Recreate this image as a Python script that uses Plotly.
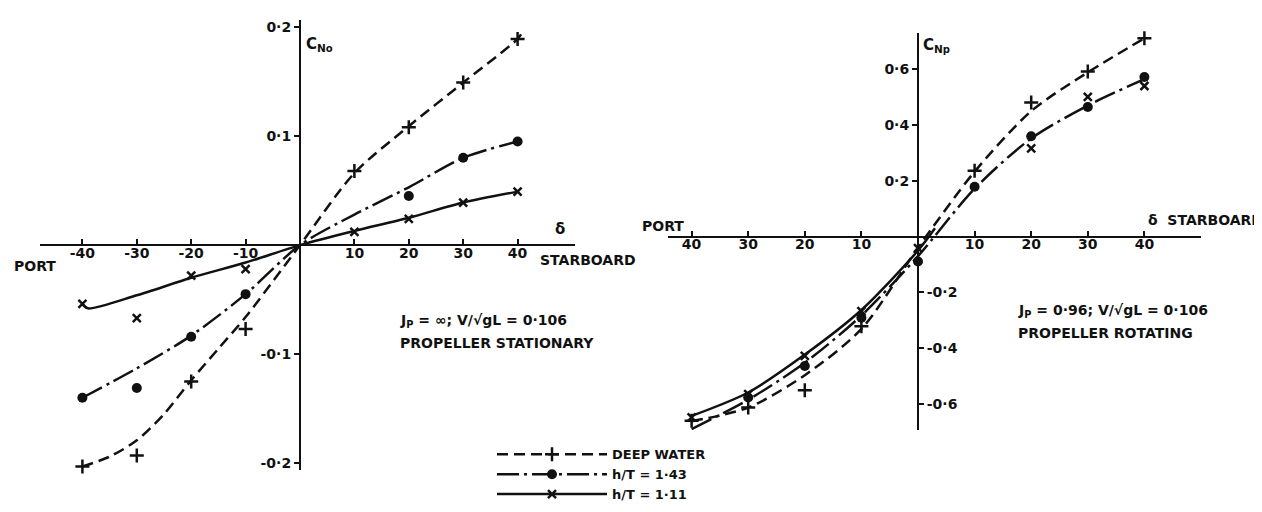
import plotly.graph_objects as go

W, H = 1262, 512
INK = "#111111"

# ---------------- data: left panel (propeller stationary) ----------------
L_delta_curve_deep = [-40, -35, -30, -25, -20, -15, -10, 0, 10, 20, 30, 40, 41]
L_cn_curve_deep = [-0.203, -0.194, -0.179, -0.155, -0.124, -0.095, -0.066, 0.0, 0.066, 0.109, 0.149, 0.189, 0.196]
L_delta_pts_deep = [-40, -30, -20, -10, 10, 20, 30, 40]
L_cn_pts_deep = [-0.203, -0.193, -0.125, -0.077, 0.068, 0.108, 0.149, 0.189]

L_delta_curve_143 = [-40, -30, -20, -10, 0, 10, 20, 30, 40]
L_cn_curve_143 = [-0.140, -0.113, -0.083, -0.045, 0.0, 0.028, 0.053, 0.080, 0.095]
L_delta_pts_143 = [-40, -30, -20, -10, 20, 30, 40]
L_cn_pts_143 = [-0.140, -0.131, -0.084, -0.045, 0.045, 0.080, 0.095]

L_delta_curve_111 = [-40, -39, -30, -20, -10, 0, 10, 20, 30, 40]
L_cn_curve_111 = [-0.054, -0.058, -0.046, -0.030, -0.016, 0.0, 0.013, 0.025, 0.039, 0.049]
L_delta_pts_111 = [-40, -30, -20, -10, 10, 20, 30, 40]
L_cn_pts_111 = [-0.054, -0.067, -0.028, -0.022, 0.012, 0.024, 0.039, 0.049]

L_xticks = [-40, -30, -20, -10, 10, 20, 30, 40]
L_xticktext = ["-40", "-30", "-20", "-10", "10", "20", "30", "40"]
L_yticks = [0.2, 0.1, -0.1, -0.2]
L_yticktext = ["0·2", "0·1", "-0·1", "-0·2"]

# ---------------- data: right panel (propeller rotating) ----------------
R_delta_curve = [-40, -30, -20, -10, 0, 10, 20, 30, 40]
R_cn_curve_deep = [-0.662, -0.613, -0.497, -0.331, -0.040, 0.233, 0.450, 0.589, 0.711]
R_cn_curve_143 = [-0.690, -0.585, -0.452, -0.283, -0.070, 0.172, 0.352, 0.470, 0.565]
R_delta_curve_111 = [-40, -30, -20, -10, 0, 3]
R_cn_curve_111 = [-0.643, -0.559, -0.423, -0.263, -0.050, 0.030]

R_delta_pts_deep = [-40, -30, -20, -10, 10, 20, 30, 40]
R_cn_pts_deep = [-0.660, -0.613, -0.551, -0.321, 0.236, 0.481, 0.592, 0.711]
R_delta_pts_143 = [-40, -30, -20, -10, 0, 10, 20, 30, 40]
R_cn_pts_143 = [-0.698, -0.577, -0.464, -0.291, -0.089, 0.179, 0.360, 0.465, 0.572]
R_delta_pts_111 = [-40, -30, -20, -10, 0, 20, 30, 40]
R_cn_pts_111 = [-0.648, -0.565, -0.428, -0.267, -0.041, 0.316, 0.501, 0.540]

R_xticks = [-40, -30, -20, -10, 10, 20, 30, 40]
R_xticktext = ["40", "30", "20", "10", "10", "20", "30", "40"]
R_yticks_pos = [0.2, 0.4, 0.6]
R_yticktext_pos = ["0·2", "0·4", "0·6"]
R_yticks_neg = [-0.2, -0.4, -0.6]
R_yticktext_neg = ["-0·2", "-0·4", "-0·6"]

series_names = ["DEEP WATER", "h/T = 1·43", "h/T = 1·11"]

# ---------------- styling ----------------
TICKFONT = dict(family="DejaVu Sans", size=14, color=INK, weight="bold")
DASH_DEEP = "11px,6px"
DASH_DOT = "22px,5px,3px,5px"
LW = 2.5
MK_PLUS = dict(symbol="cross-thin", size=10, line=dict(width=2.5, color=INK), color=INK)
MK_DOT = dict(symbol="circle", size=10, color=INK)
MK_X = dict(symbol="x-thin", size=8, line=dict(width=2.5, color=INK), color=INK)


def fx(px):
    return px / W


def fy(py):
    return 1 - py / H


# axis geometry (pixel placement of the two panels)
L_xdom = [fx(32), fx(567)]
L_xr = [(32 - 292) / 5.44, (567 - 292) / 5.44]
L_ydom = [fy(463), fy(11)]
L_yr = [-0.2064, 0.2064]

R_xdom = [fx(660), fx(1193)]
R_xr = [(660 - 910) / 5.66, (1193 - 910) / 5.66]
R_ydom = [fy(423), fy(24)]
R_yr = [(228.5 - 423) / 280, (228.5 - 24) / 280]


def zero_pos(dom, rng):
    return dom[0] + (0 - rng[0]) / (rng[1] - rng[0]) * (dom[1] - dom[0])


fig = go.Figure()


def add_panel(xa, ya, curves, points):
    for (cx, cy, dash) in curves:
        fig.add_trace(go.Scatter(x=cx, y=cy, mode="lines", xaxis=xa, yaxis=ya, cliponaxis=False,
                                 line=dict(color=INK, width=LW, dash=dash, shape="spline", smoothing=0.8),
                                 showlegend=False, hoverinfo="skip"))
    for (px_, py_, mk) in points:
        fig.add_trace(go.Scatter(x=px_, y=py_, mode="markers", xaxis=xa, yaxis=ya, marker=mk,
                                 cliponaxis=False, showlegend=False))


add_panel("x", "y",
          [(L_delta_curve_deep, L_cn_curve_deep, DASH_DEEP),
           (L_delta_curve_143, L_cn_curve_143, DASH_DOT),
           (L_delta_curve_111, L_cn_curve_111, "solid")],
          [(L_delta_pts_deep, L_cn_pts_deep, MK_PLUS),
           (L_delta_pts_143, L_cn_pts_143, MK_DOT),
           (L_delta_pts_111, L_cn_pts_111, MK_X)])

add_panel("x2", "y2",
          [(R_delta_curve, R_cn_curve_deep, DASH_DEEP),
           (R_delta_curve, R_cn_curve_143, DASH_DOT),
           (R_delta_curve_111, R_cn_curve_111, "solid")],
          [(R_delta_pts_deep, R_cn_pts_deep, MK_PLUS),
           (R_delta_pts_143, R_cn_pts_143, MK_DOT),
           (R_delta_pts_111, R_cn_pts_111, MK_X)])

# legend-only entries
for name, dash, mk in zip(series_names, [DASH_DEEP, DASH_DOT, "solid"], [MK_PLUS, MK_DOT, MK_X]):
    fig.add_trace(go.Scatter(x=[None], y=[None], mode="lines+markers", name=name,
                             line=dict(color=INK, width=LW, dash=dash), marker=mk,
                             xaxis="x", yaxis="y"))

axis_common = dict(showgrid=False, zeroline=False, linecolor=INK, linewidth=2,
                   tickfont=TICKFONT, tickcolor=INK, tickwidth=2, ticklen=5, fixedrange=True)

fig.update_layout(
    width=W, height=H,
    margin=dict(l=0, r=0, t=0, b=0),
    paper_bgcolor="white", plot_bgcolor="rgba(0,0,0,0)",
    font=TICKFONT,
    xaxis=dict(domain=L_xdom, range=L_xr, anchor="free", position=zero_pos(L_ydom, L_yr),
               tickvals=L_xticks, ticktext=L_xticktext, ticks="inside", side="bottom",
               showline=True, ticklabelstandoff=-5, **axis_common),
    yaxis=dict(domain=L_ydom, range=L_yr, anchor="free", position=zero_pos(L_xdom, L_xr),
               tickvals=L_yticks, ticktext=L_yticktext, ticks="outside", side="left",
               showline=True, **axis_common),
    xaxis2=dict(domain=R_xdom, range=R_xr, anchor="free", position=zero_pos(R_ydom, R_yr),
                tickvals=R_xticks, ticktext=R_xticktext, ticks="inside", side="bottom",
                showline=True, ticklabelstandoff=-5, **axis_common),
    yaxis2=dict(domain=R_ydom, range=R_yr, anchor="free", position=zero_pos(R_xdom, R_xr),
                tickvals=R_yticks_pos, ticktext=R_yticktext_pos, ticks="outside", side="left",
                showline=True, **axis_common),
    yaxis3=dict(overlaying="y2", range=R_yr, anchor="free", position=zero_pos(R_xdom, R_xr),
                tickvals=R_yticks_neg, ticktext=R_yticktext_neg, ticks="outside", side="right",
                showline=False, **axis_common),
    legend=dict(x=fx(484), y=fy(432), xanchor="left", yanchor="top", bgcolor="rgba(0,0,0,0)",
                font=dict(family="DejaVu Sans", size=13, color=INK, weight="bold"),
                itemwidth=110, tracegroupgap=0),
    showlegend=True,
)

# a dummy trace so yaxis3 is drawn
fig.add_trace(go.Scatter(x=[None], y=[None], xaxis="x2", yaxis="y3", showlegend=False))

ann_font = dict(family="DejaVu Sans", size=14, color=INK, weight="bold")
big_font = dict(family="DejaVu Sans", size=15, color=INK, weight="bold")
annotations = [
    ("PORT", 4, 258, ann_font),
    ("STARBOARD", 530, 252, ann_font),
    ("δ", 545, 221, big_font),
    ("C<sub>N<span style='font-size:10px'>o</span></sub>", 296, 36, big_font),
    ("J<sub>P</sub> = ∞; V/√gL = 0·106", 390, 313, ann_font),
    ("PROPELLER STATIONARY", 390, 335, ann_font),
    ("PORT", 632, 218, ann_font),
    ("δ  STARBOARD", 1138, 212, ann_font),
    ("C<sub>N<span style='font-size:10px'>p</span></sub>", 913, 37, big_font),
    ("J<sub>P</sub> = 0·96; V/√gL = 0·106", 1008, 303, ann_font),
    ("PROPELLER ROTATING", 1008, 325, ann_font),
]
for text, px_, py_, f in annotations:
    fig.add_annotation(text=text, x=fx(px_), y=fy(py_), xref="paper", yref="paper",
                       xanchor="left", yanchor="middle", showarrow=False, font=f)

fig.write_html("out.html")
